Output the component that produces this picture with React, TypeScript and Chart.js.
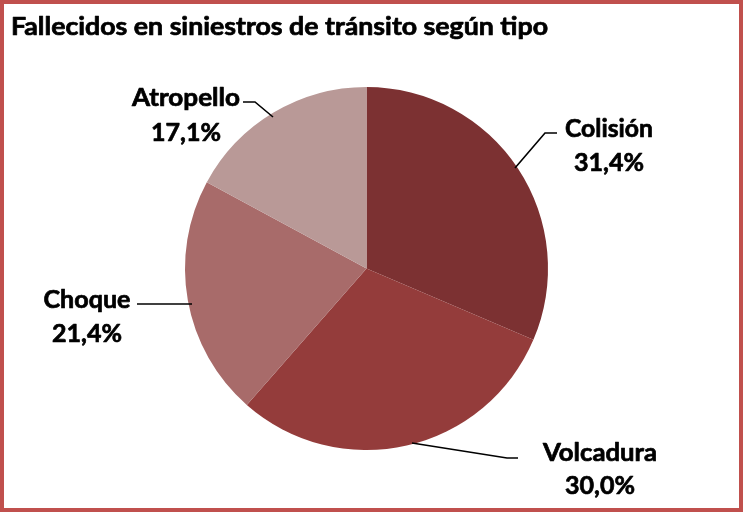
import React, { useEffect, useRef } from "react";
import { Chart, registerables } from "chart.js";

Chart.register(...registerables);

const TITLE = "Fallecidos en siniestros de tránsito según tipo";
const categories = ["Colisión", "Volcadura", "Choque", "Atropello"];
const values = [31.4, 30.0, 21.4, 17.1];
const valueLabels = ["31,4%", "30,0%", "21,4%", "17,1%"];
const colors = ["#7c3132", "#943c3b", "#a86b6a", "#b99997"];

// label layout (centre x, name y, value y, name width, value width)
const labelLayout = [
  { cx: 609, ny: 129, vy: 163, nw: 88, vw: 70 },
  { cx: 600, ny: 453, vy: 486, nw: 114, vw: 70 },
  { cx: 87, ny: 300, vy: 334, nw: 87, vw: 70 },
  { cx: 186, ny: 98, vy: 133, nw: 108, vw: 70 },
];
const leaders = [
  [[557, 133], [545, 133], [515, 168]],
  [[412, 443], [507, 458], [518, 458]],
  [[137, 304], [192, 304]],
  [[243, 102], [255, 102], [273, 117]],
];

const FONT = `Lato, "Liberation Sans", sans-serif`;

function fitText(ctx: CanvasRenderingContext2D, text: string, x: number, cy: number, w: number, size: number, align: CanvasTextAlign) {
  ctx.save();
  ctx.font = `bold ${size}px ${FONT}`;
  const m = ctx.measureText(text).width;
  const sx = w / m;
  ctx.translate(x, cy);
  ctx.scale(sx, 1);
  ctx.textAlign = align;
  ctx.textBaseline = "middle";
  ctx.fillStyle = "#000";
  ctx.strokeStyle = "#000";
  ctx.lineWidth = 0.7;
  ctx.lineJoin = "round";
  ctx.fillText(text, 0, 0);
  ctx.strokeText(text, 0, 0);
  ctx.restore();
}

const overlay = {
  id: "overlay",
  afterDraw(chart: any) {
    const ctx: CanvasRenderingContext2D = chart.ctx;
    ctx.save();
    ctx.strokeStyle = "#c0504d";
    ctx.lineWidth = 4;
    ctx.strokeRect(2, 2, 739, 508);
    fitText(ctx, TITLE, 11, 27, 537, 24, "left");
    ctx.strokeStyle = "#000";
    ctx.lineWidth = 1.6;
    leaders.forEach((pts) => {
      ctx.beginPath();
      pts.forEach(([x, y], i) => (i ? ctx.lineTo(x, y) : ctx.moveTo(x, y)));
      ctx.stroke();
    });
    categories.forEach((c, i) => {
      const l = labelLayout[i];
      fitText(ctx, c, l.cx, l.ny, l.nw, 25, "center");
      fitText(ctx, valueLabels[i], l.cx, l.vy, l.vw, 25, "center");
    });
    ctx.restore();
  },
};

export default function App() {
  const ref = useRef<HTMLCanvasElement>(null);
  useEffect(() => {
    if (!ref.current) return;
    const chart = new Chart(ref.current, {
      type: "pie",
      data: {
        labels: categories,
        datasets: [{ data: values, backgroundColor: colors, borderWidth: 0 }],
      },
      options: {
        responsive: false,
        animation: false,
        layout: { padding: { left: 185, right: 195, top: 87, bottom: 63 } },
        plugins: { legend: { display: false }, title: { display: false }, tooltip: { enabled: false } },
      },
      plugins: [overlay],
    });
    return () => chart.destroy();
  }, []);
  return (
    <div style={{ position: "fixed", left: 0, top: 0, width: 743, height: 513, background: "#fff" }}>
      <canvas ref={ref} width={743} height={513} style={{ display: "block" }} />
    </div>
  );
}
